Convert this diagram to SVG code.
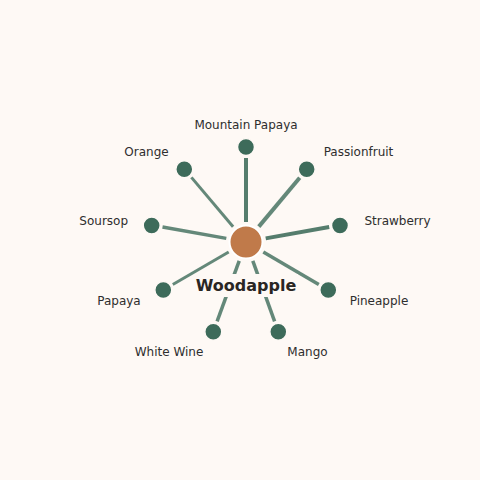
<svg xmlns="http://www.w3.org/2000/svg" width="480" height="480" viewBox="0 0 480 480">
<style>
.bg{fill:#FEF9F5}
.edge{stroke:#3D6B5A;stroke-linecap:butt;fill:none;stroke-opacity:0.8}
.leaf{fill:#3D6B5A;stroke:#FEF9F5;stroke-width:1.5}
.hub{fill:#C07A4A;stroke:#FFFFFF;stroke-width:2}
.lbl{font-family:"DejaVu Sans",sans-serif;font-size:12px;fill:#2E2E2E;text-anchor:middle}
.hubl{font-family:"DejaVu Sans",sans-serif;font-size:16px;font-weight:bold;fill:#2A2623;text-anchor:middle}
</style>
<rect class="bg" x="0" y="0" width="480" height="480"/>
<g id="connectors">
<line class="edge" x1="246" y1="222" x2="246" y2="158" stroke-width="4" style="stroke-opacity:0.88"/>
<line class="edge" x1="258.8" y1="226.6" x2="299.7" y2="177.8" stroke-width="4"/>
<line class="edge" x1="265.7" y1="238.4" x2="329.2" y2="227" stroke-width="4" style="stroke-opacity:0.88"/>
<line class="edge" x1="263.3" y1="252.1" x2="318.8" y2="284.5" stroke-width="3.5"/>
<line class="edge" x1="252.8" y1="260.8" x2="274.6" y2="321.3" stroke-width="3.5"/>
<line class="edge" x1="239.2" y1="260.8" x2="217.1" y2="321.4" stroke-width="3.5"/>
<line class="edge" x1="228.7" y1="252" x2="172.8" y2="284.5" stroke-width="3"/>
<line class="edge" x1="226.3" y1="238.4" x2="162.5" y2="227" stroke-width="3.5"/>
<line class="edge" x1="233.1" y1="226.7" x2="191.4" y2="177.4" stroke-width="3"/>
</g>
<g id="node-mountain-papaya"><circle class="leaf" cx="246" cy="147" r="8.5"/><text class="lbl" x="246" y="129">Mountain Papaya</text></g>
<g id="node-passionfruit"><circle class="leaf" cx="306.7" cy="169.2" r="8.5"/><text class="lbl" x="358.5" y="156">Passionfruit</text></g>
<g id="node-strawberry"><circle class="leaf" cx="340" cy="225.5" r="8.5"/><text class="lbl" x="397.5" y="225">Strawberry</text></g>
<g id="node-pineapple"><circle class="leaf" cx="328.3" cy="290" r="8.5"/><text class="lbl" x="379" y="305">Pineapple</text></g>
<g id="node-mango"><circle class="leaf" cx="278.3" cy="331.7" r="8.5"/><text class="lbl" x="307.5" y="356">Mango</text></g>
<g id="node-white-wine"><circle class="leaf" cx="213.3" cy="331.7" r="8.5"/><text class="lbl" x="169" y="356">White Wine</text></g>
<g id="node-papaya"><circle class="leaf" cx="163.3" cy="290" r="8.5"/><text class="lbl" x="119" y="305">Papaya</text></g>
<g id="node-soursop"><circle class="leaf" cx="151.7" cy="225.5" r="8.5"/><text class="lbl" x="103.7" y="225">Soursop</text></g>
<g id="node-orange"><circle class="leaf" cx="184.3" cy="169.2" r="8.5"/><text class="lbl" x="146.5" y="156">Orange</text></g>
<g id="node-woodapple">
<circle class="hub" cx="246" cy="242" r="16.5"/>
<rect class="bg" x="194" y="274" width="104" height="23"/>
<text class="hubl" x="246" y="291">Woodapple</text>
</g>
</svg>
